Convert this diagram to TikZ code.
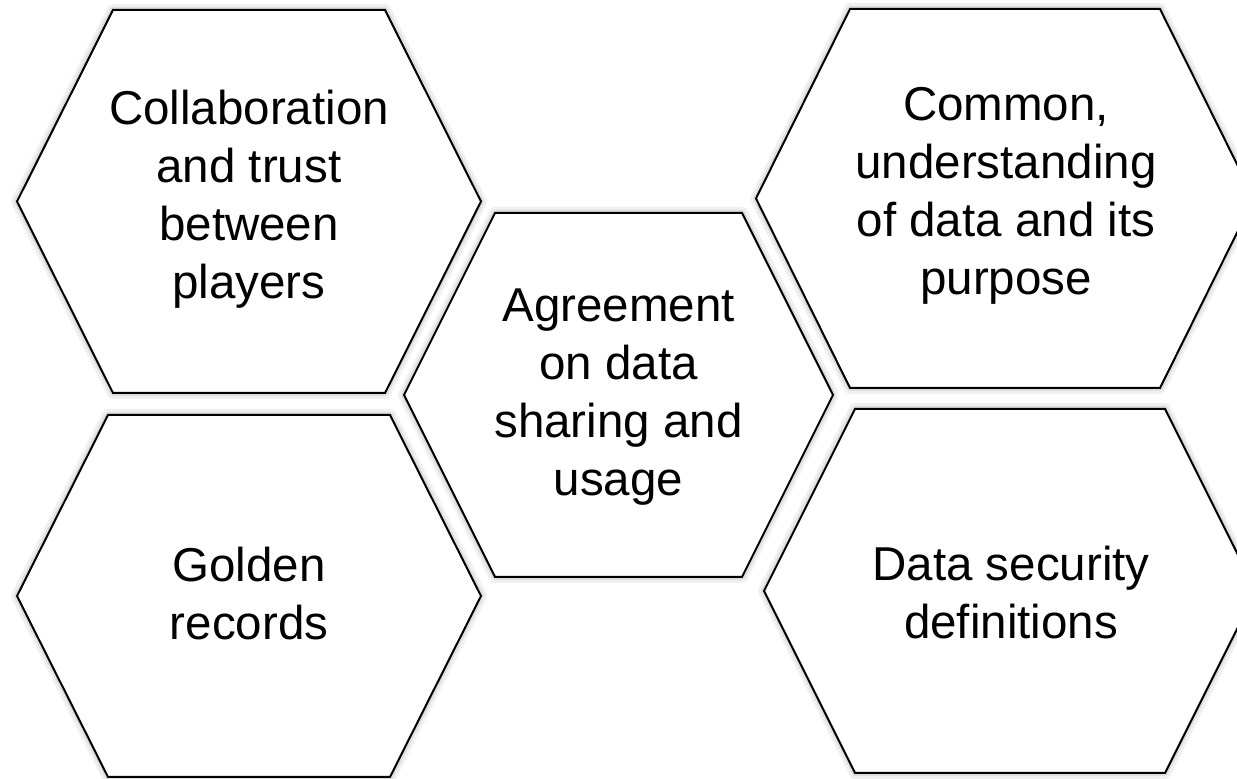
\documentclass[tikz,border=0pt]{standalone}
\usepackage{fontspec}
\setmainfont{Liberation Sans}

\begin{document}
\begin{tikzpicture}[x=0.5pt,y=0.5pt,
    glowwide/.style={line width=6pt,black!6,line join=round},
    glownarrow/.style={line width=3pt,black!13,line join=round},
    hexcell/.style={draw=black,fill=white,line width=1pt,line join=miter},
    hextext/.style={align=center,inner sep=0pt,
                    font=\fontsize{23.75}{29}\selectfont}]
  \useasboundingbox (0,0) rectangle (1237,779);
  \clip (0,0) rectangle (1237,779);
  % soft glow under the five cells
  \foreach \st in {glowwide,glownarrow}{
    \draw[\st] (17,577.5) -- (113,769) -- (385,769) -- (481,577.5) -- (385,386) -- (113,386) -- cycle;
    \draw[\st] (17,183) -- (108,364) -- (390,364) -- (481,183) -- (390,2) -- (108,2) -- cycle;
    \draw[\st] (404,384) -- (495,566) -- (742,566) -- (833,384) -- (742,202) -- (495,202) -- cycle;
    \draw[\st] (756,580.5) -- (850,770) -- (1160,770) -- (1254,580.5) -- (1160,391) -- (850,391) -- cycle;
    \draw[\st] (764,188) -- (855,370) -- (1165,370) -- (1256,188) -- (1165,6) -- (855,6) -- cycle;
  }
  % the cells
  \draw[hexcell] (17,577.5) -- (113,769) -- (385,769) -- (481,577.5) -- (385,386) -- (113,386) -- cycle;
  \draw[hexcell] (17,183) -- (108,364) -- (390,364) -- (481,183) -- (390,2) -- (108,2) -- cycle;
  \draw[hexcell] (404,384) -- (495,566) -- (742,566) -- (833,384) -- (742,202) -- (495,202) -- cycle;
  \draw[hexcell] (756,580.5) -- (850,770) -- (1160,770) -- (1254,580.5) -- (1160,391) -- (850,391) -- cycle;
  \draw[hexcell] (764,188) -- (855,370) -- (1165,370) -- (1256,188) -- (1165,6) -- (855,6) -- cycle;
  % labels
  \node[hextext] (collab)   at (249,580)   {Collaboration\\and trust\\between\\players};
  \node[hextext] (golden)   at (249,185)   {Golden\\records};
  \node[hextext] (agree)    at (618.5,381.5) {Agreement\\on data\\sharing and\\usage};
  \node[hextext] (common)   at (1006,583.5) {Common,\\understanding\\of data and its\\purpose};
  \node[hextext] (security) at (1011,186.5) {Data security\\definitions};
\end{tikzpicture}
\end{document}
